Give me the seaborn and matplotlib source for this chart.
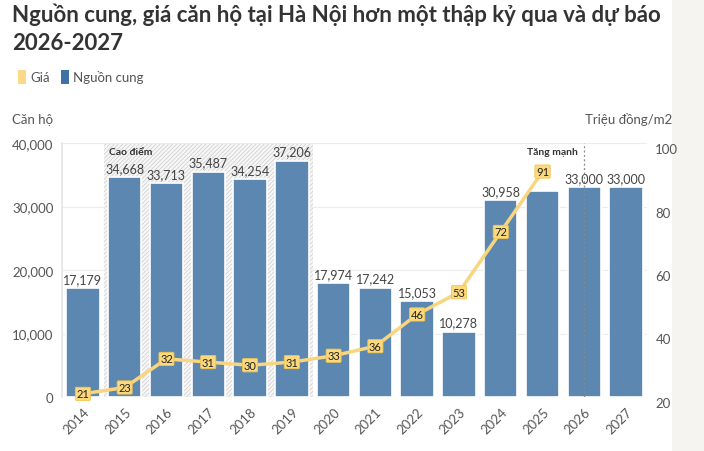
import matplotlib
matplotlib.use("Agg")
import numpy as np
import pandas as pd
import seaborn as sns
from matplotlib import pyplot as plt
from matplotlib.patches import Patch, Rectangle

# Data
years = ["2014", "2015", "2016", "2017", "2018", "2019", "2020",
         "2021", "2022", "2023", "2024", "2025", "2026", "2027"]
supply = [17179, 34668, 33713, 35487, 34254, 37206, 17974,
          17242, 15053, 10278, 30958, 32400, 33000, 33000]
supply_labels = ["17,179", "34,668", "33,713", "35,487", "34,254", "37,206",
                 "17,974", "17,242", "15,053", "10,278", "30,958", "",
                 "33,000", "33,000"]
price_years = years[:12]
price = [21, 23, 32, 31, 30, 31, 33, 36, 46, 53, 72, 91]
left_ticks = [0, 10000, 20000, 30000, 40000]
right_ticks = [20, 40, 60, 80, 100]

BAR = "#5b87b1"
LINE = "#f8d57e"
TXT = "#555555"

sns.set_theme(style="white")
plt.rcParams["font.family"] = ["Lato", "DejaVu Sans"]
plt.rcParams["hatch.linewidth"] = 0.6

fig = plt.figure(figsize=(7.04, 4.52), dpi=100)
fig.patches.append(Rectangle((672 / 704, 0), 32 / 704, 1, transform=fig.transFigure,
                             facecolor="#f6f4f1", edgecolor="none", zorder=-1))
ax = fig.add_axes([62 / 704, 1 - 398 / 452, 585 / 704, 254 / 452])
ax.patch.set_alpha(0)

# peak period shading
ax.axvspan(0.5, 5.5, ymin=0, ymax=1, facecolor="#f7f7f7", edgecolor="#d2d2d2",
           hatch="////////", linewidth=0, zorder=0.5)
ax.text(0.62, 39300, "Cao điểm", fontsize=7.5, fontweight="bold",
        color="#333333", va="top", ha="left", zorder=3)

df = pd.DataFrame({"year": years, "supply": supply})
sns.barplot(data=df, x="year", y="supply", ax=ax, color=BAR, saturation=1,
            width=0.8, edgecolor="white", linewidth=1.2, zorder=2)

for i, (v, lab) in enumerate(zip(supply, supply_labels)):
    if lab:
        ax.text(i, v + 500, lab, ha="center", va="bottom", fontsize=9,
                color="#444444", zorder=3)

ax.axvline(12, color="#888888", linestyle=(0, (1.5, 2)), linewidth=0.9, zorder=3)
ax.text(11.85, 39300, "Tăng mạnh", fontsize=7.5, fontweight="bold",
        color="#333333", va="top", ha="right", zorder=3)

ax.set_xlim(-0.5, 13.5)
ax.set_ylim(0, 40000)
ax.set_yticks(left_ticks)
ax.set_yticklabels([f"{t:,}" for t in left_ticks], fontsize=9.5, color=TXT)
ax.set_xlabel("")
ax.set_ylabel("")
ax.grid(axis="y", color="#ececec", linewidth=0.8, zorder=0)
ax.set_axisbelow(True)
for s in ["top", "right", "bottom"]:
    ax.spines[s].set_visible(False)
ax.spines["left"].set_color("#e6e6e6")
ax.axhline(0, color="#dddddd", linewidth=0.8, zorder=1)
ax.tick_params(axis="y", length=0, pad=6)
ax.tick_params(axis="x", length=4, color="#cccccc", pad=2)
plt.setp(ax.get_xticklabels(), rotation=45, ha="right", rotation_mode="anchor",
         fontsize=9.5, color=TXT)

# price line on the right axis
ax2 = ax.twinx()
sns.lineplot(x=np.arange(len(price)), y=price, ax=ax2, color=LINE,
             linewidth=2.5, zorder=4)
for i, p in enumerate(price):
    ax2.text(i, p, str(p), ha="center", va="center", fontsize=8, color="#222222",
             zorder=5, bbox=dict(boxstyle="round,pad=0.1", facecolor="#fbd97c",
                                 edgecolor="#f3c64f", linewidth=0.6))
ax2.set_ylim(20, 100)
ax2.set_yticks(right_ticks)
ax2.set_yticklabels([str(t) for t in right_ticks], fontsize=9.5, color=TXT, va="top")
ax2.tick_params(axis="y", length=0, pad=6)
ax2.set_ylabel("")
for s in ax2.spines.values():
    s.set_visible(False)

# titles and legend
fig.text(12 / 704, 1 - 4 / 452,
         "Nguồn cung, giá căn hộ tại Hà Nội hơn một thập kỷ qua và dự báo\n2026-2027",
         fontsize=16, fontweight="bold", color="#333333", va="top", ha="left",
         linespacing=1.38)
fig.text(12 / 704, 1 - 120 / 452, "Căn hộ", fontsize=9.5, color=TXT, va="center")
fig.text(672 / 704, 1 - 120 / 452, "Triệu đồng/m2", fontsize=9.5, color=TXT,
         va="center", ha="right")
handles = [Patch(facecolor="#fbd98a", edgecolor="none", label="Giá"),
           Patch(facecolor="#3f73a6", edgecolor="none", label="Nguồn cung")]
fig.legend(handles=handles, loc="center left", bbox_to_anchor=(6 / 704, 1 - 78 / 452),
           ncol=2, frameon=False, fontsize=9.5, handlelength=0.6, handleheight=1.2,
           handletextpad=0.35, columnspacing=0.8, labelcolor=TXT)

fig.savefig("out.png", dpi=100)
